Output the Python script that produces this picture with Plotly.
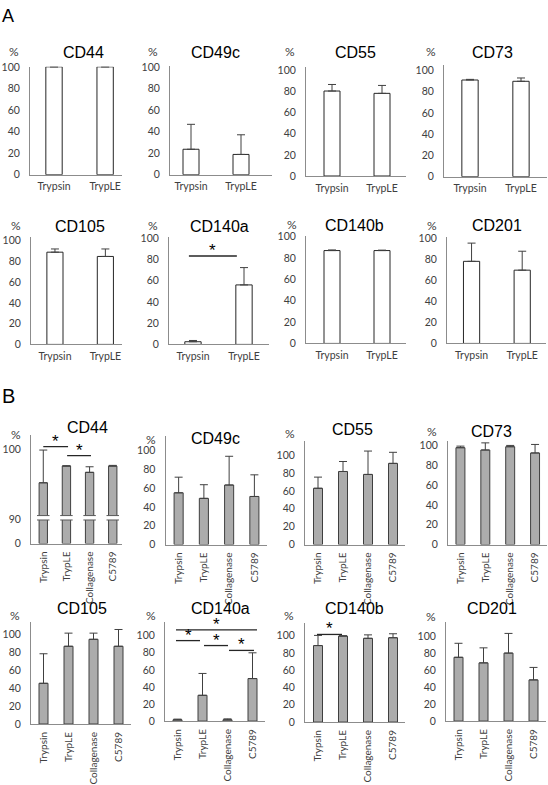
import plotly.graph_objects as go

W, H = 548, 785

# ---------------- data ----------------
CATS_A = ["Trypsin", "TrypLE"]
CATS_B = ["Trypsin", "TrypLE", "Collagenase", "C5789"]
Y_TICKS = [0, 20, 40, 60, 80, 100]

# Panel A (mean, upper error)
A_CD44 = [100, 100];        A_CD44_ERR = [0, 0]
A_CD49C = [23.6, 18.8];     A_CD49C_ERR = [23.1, 18.2]
A_CD55 = [80.5, 78.3];      A_CD55_ERR = [6.2, 7.5]
A_CD73 = [91.0, 89.8];      A_CD73_ERR = [0.6, 3.1]
A_CD105 = [88.7, 84.6];     A_CD105_ERR = [3.1, 7.2]
A_CD140A = [2.5, 56.0];     A_CD140A_ERR = [1.2, 16.3]
A_CD140B = [87.1, 87.1];    A_CD140B_ERR = [0.6, 0.4]
A_CD201 = [78.0, 69.6];     A_CD201_ERR = [17.3, 18.0]

# Panel B
B_CD44 = [95.2, 97.6, 96.7, 97.6];    B_CD44_ERR = [4.7, 0.05, 0.8, 0.1]
B_CD49C = [54.9, 49.0, 63.2, 51.0];   B_CD49C_ERR = [16.6, 14.5, 30.5, 23.0]
B_CD55 = [63.0, 81.8, 78.5, 90.9];    B_CD55_ERR = [12.5, 11.2, 26.2, 12.4]
B_CD73 = [97.7, 95.4, 98.7, 92.4];    B_CD73_ERR = [1.6, 7.2, 1.3, 8.6]
B_CD105 = [45.6, 87.1, 94.9, 87.1];   B_CD105_ERR = [33.1, 14.7, 6.9, 18.8]
B_CD140A = [1.5, 30.2, 1.5, 49.8];    B_CD140A_ERR = [0.8, 25.6, 1.1, 30.2]
B_CD140B = [88.6, 99.6, 97.0, 97.7];  B_CD140B_ERR = [11.8, 0.4, 4.0, 4.6]
B_CD201 = [75.6, 69.0, 80.6, 48.8];   B_CD201_ERR = [16.6, 17.8, 23.3, 14.8]

# significance brackets: (x0, x1, y) in data units; star drawn above
SIG_A_CD140A = [(-0.08, 0.86, 83.2)]
SIG_B_CD44 = [(0.0, 1.07, 100.38), (1.03, 2.06, 99.11)]
SIG_B_CD140A = [(-0.06, 3.18, 106.9), (-0.06, 0.9, 94.3), (1.06, 2.02, 88.5), (2.06, 3.06, 82.8)]
SIG_B_CD140B = [(-0.04, 0.96, 101.5)]

# broken-axis display scale for panel B CD44 (0-90 compressed)
def brk(v):
    return v * 25.0 / 90.0 if v <= 90 else 25.0 + (v - 90.0) * 7.1

# ---------------- layout geometry (pixels) ----------------
panels = [
    ("CD44", CATS_A, A_CD44, A_CD44_ERR, 30, 122, 62, 172, (-0.47, 1.33), 62, "A"),
    ("CD49c", CATS_A, A_CD49C, A_CD49C_ERR, 170, 272, 61, 172, (-0.42, 1.62), 62, "A"),
    ("CD55", CATS_A, A_CD55, A_CD55_ERR, 306, 406, 62.3, 173.3, (-0.52, 1.48), 65.7, "A"),
    ("CD73", CATS_A, A_CD73, A_CD73_ERR, 444, 547, 60, 174, (-0.51, 1.51), 65.7, "A"),
    ("CD105", CATS_A, A_CD105, A_CD105_ERR, 31, 122, 235, 345, (-0.475, 1.33), 239, "A"),
    ("CD140a", CATS_A, A_CD140A, A_CD140A_ERR, 169, 269, 235, 345, (-0.47, 1.49), 236.7, "A"),
    ("CD140b", CATS_A, A_CD140B, A_CD140B_ERR, 306, 406, 234.3, 344, (-0.52, 1.48), 235.3, "A"),
    ("CD201", CATS_A, A_CD201, A_CD201_ERR, 447, 546, 235, 344, (-0.485, 1.47), 236.7, "A"),
    ("CD44", CATS_B, B_CD44, B_CD44_ERR, 31, 122, 437, 548, (-0.53, 3.4), None, "BRK"),
    ("CD49c", CATS_B, B_CD49C, B_CD49C_ERR, 165.5, 267, 438, 549, (-0.52, 3.5), 453, "B"),
    ("CD55", CATS_B, B_CD55, B_CD55_ERR, 305, 405, 443, 549, (-0.52, 3.48), 458, "B"),
    ("CD73", CATS_B, B_CD73, B_CD73_ERR, 448, 547, 443, 549, (-0.5, 3.48), 448, "B"),
    ("CD105", CATS_B, B_CD105, B_CD105_ERR, 31, 131, 628, 732, (-0.5, 3.5), 641, "B"),
    ("CD140a", CATS_B, B_CD140A, B_CD140A_ERR, 165, 265, 628, 729, (-0.5, 3.5), 642, "B"),
    ("CD140b", CATS_B, B_CD140B, B_CD140B_ERR, 305, 405, 629, 730, (-0.52, 3.48), 642, "B"),
    ("CD201", CATS_B, B_CD201, B_CD201_ERR, 446, 546, 628, 729, (-0.5, 3.5), 643, "B"),
]

title_pos = [
    (83.5, 47.5), (215, 47), (355, 47), (492.5, 47),
    (80, 224.5), (219.5, 224.5), (354.5, 224), (497, 224),
    (87.5, 429.5), (215, 440.5), (352.5, 431.7), (491.5, 433.7),
    (82, 614), (220, 614), (354, 614), (492, 614),
]
pct_pos = [
    (14, 46.5), (152.5, 46), (290, 46), (431, 46),
    (15.5, 224), (153, 224), (291.5, 223), (431.5, 224),
    (16, 436.7), (151, 441.7), (290, 435.7), (432, 434),
    (14.5, 621.7), (151, 621.7), (288.5, 621.7), (431, 622),
]

TICK_FONT = dict(family="Lato, Open Sans, sans-serif", size=10.5, color="#404040")
TICK_FONT_ROT = dict(family="Lato, Open Sans, sans-serif", size=10, color="#404040")
TITLE_FONT = dict(family="Liberation Sans, Arial, sans-serif", size=16, color="#000000")
AXIS_COLOR = "#8c8c8c"

def px(x):
    return x / W

def py(y):
    return 1 - y / H

fig = go.Figure()
layout = dict(width=W, height=H, margin=dict(l=0, r=0, t=0, b=0),
              paper_bgcolor="white", plot_bgcolor="white", showlegend=False,
              bargap=0)
annotations = []
shapes = []

for i, (name, cats, mean, err, L, R, T, B, xr, y100, kind) in enumerate(panels):
    n = i + 1
    xs = "x" if n == 1 else f"x{n}"
    ys = "y" if n == 1 else f"y{n}"
    xk = "xaxis" if n == 1 else f"xaxis{n}"
    yk = "yaxis" if n == 1 else f"yaxis{n}"
    xpos = list(range(len(cats)))

    if kind == "BRK":
        yvals = [brk(m) for m in mean]
        evals = [brk(m + e) - brk(m) for m, e in zip(mean, err)]
        ymax = B - T
        tickvals = [brk(0), brk(90), brk(100)]
        ticktext = ["0", "90", "100"]
    else:
        yvals = mean
        evals = err
        ppu = (B - y100) / 100.0
        ymax = (B - T) / ppu
        tickvals = Y_TICKS
        ticktext = [str(t) for t in Y_TICKS]

    if kind == "A":
        fill, outline, width = "white", "#262626", 0.32
    else:
        fill, outline, width = "#acacac", "#3f3f3f", 0.36

    fig.add_trace(go.Bar(
        x=xpos, y=yvals, xaxis=xs, yaxis=ys, width=width,
        marker=dict(color=fill, line=dict(color=outline, width=1)),
        error_y=dict(type="data", symmetric=False, array=evals,
                     arrayminus=[0] * len(evals), color="#404040",
                     thickness=1, width=4, visible=True),
        hoverinfo="skip",
    ))

    layout[xk] = dict(domain=[px(L), px(R)], range=list(xr), anchor=ys,
                      showline=True, linecolor=AXIS_COLOR, linewidth=1,
                      showgrid=False, zeroline=False, ticks="",
                      tickvals=xpos, ticktext=cats,
                      tickfont=TICK_FONT if kind == "A" else TICK_FONT_ROT,
                      tickangle=0 if kind == "A" else -90,
                      ticklabelstandoff=2 if kind == "A" else 3,
                      fixedrange=True)
    layout[yk] = dict(domain=[py(B), py(T)], range=[0, ymax], anchor=xs,
                      showline=True, linecolor=AXIS_COLOR, linewidth=1,
                      showgrid=False, zeroline=False, ticks="",
                      tickvals=tickvals, ticktext=ticktext, tickfont=TICK_FONT,
                      ticklabelstandoff=7, fixedrange=True)

    tx, ty = title_pos[i]
    annotations.append(dict(text=name, x=px(tx), y=py(ty), xref="paper", yref="paper",
                            showarrow=False, font=TITLE_FONT,
                            xanchor="center", yanchor="middle"))
    cx, cy = pct_pos[i]
    annotations.append(dict(text="%", x=px(cx), y=py(cy), xref="paper", yref="paper",
                            showarrow=False,
                            font=dict(family="Lato, sans-serif", size=12, color="#404040"),
                            xanchor="center", yanchor="middle"))

    if kind == "BRK":
        for k in xpos:
            shapes.append(dict(type="rect", xref=xs, yref=ys, x0=k - 0.27, x1=k + 0.27,
                               y0=24.0, y1=28.5, fillcolor="white",
                               line=dict(width=0), layer="above"))
            for yy in (24.0, 28.5):
                shapes.append(dict(type="line", xref=xs, yref=ys, x0=k - 0.27, x1=k + 0.27,
                                   y0=yy, y1=yy, line=dict(color="#595959", width=1),
                                   layer="above"))

# significance markers
def add_sig(n, sigs, scale=None):
    xs = "x" if n == 1 else f"x{n}"
    ys = "y" if n == 1 else f"y{n}"
    for (x0, x1, yv) in sigs:
        yy = scale(yv) if scale else yv
        shapes.append(dict(type="line", xref=xs, yref=ys, x0=x0, x1=x1, y0=yy, y1=yy,
                           line=dict(color="#262626", width=1.3)))
        annotations.append(dict(text="*", x=(x0 + x1) / 2, y=yy, xref=xs, yref=ys,
                                showarrow=False, yanchor="bottom", yshift=-6,
                                font=dict(family="Liberation Sans, Arial, sans-serif",
                                          size=17, color="#000000")))

add_sig(6, SIG_A_CD140A)
add_sig(9, SIG_B_CD44, scale=brk)
add_sig(14, SIG_B_CD140A)
add_sig(15, SIG_B_CD140B)

annotations.append(dict(text="A", x=px(8), y=py(10), xref="paper", yref="paper",
                        showarrow=False, xanchor="center", yanchor="middle",
                        font=dict(family="Liberation Sans, Arial, sans-serif", size=18, color="#000")))
annotations.append(dict(text="B", x=px(8), y=py(398), xref="paper", yref="paper",
                        showarrow=False, xanchor="center", yanchor="middle",
                        font=dict(family="Liberation Sans, Arial, sans-serif", size=20, color="#000")))

layout["annotations"] = annotations
layout["shapes"] = shapes
fig.update_layout(**layout)
fig.write_html("out.html",
               config={"displayModeBar": False, "staticPlot": True},
               post_script="document.body.style.margin='0';document.body.style.overflow='hidden';")
